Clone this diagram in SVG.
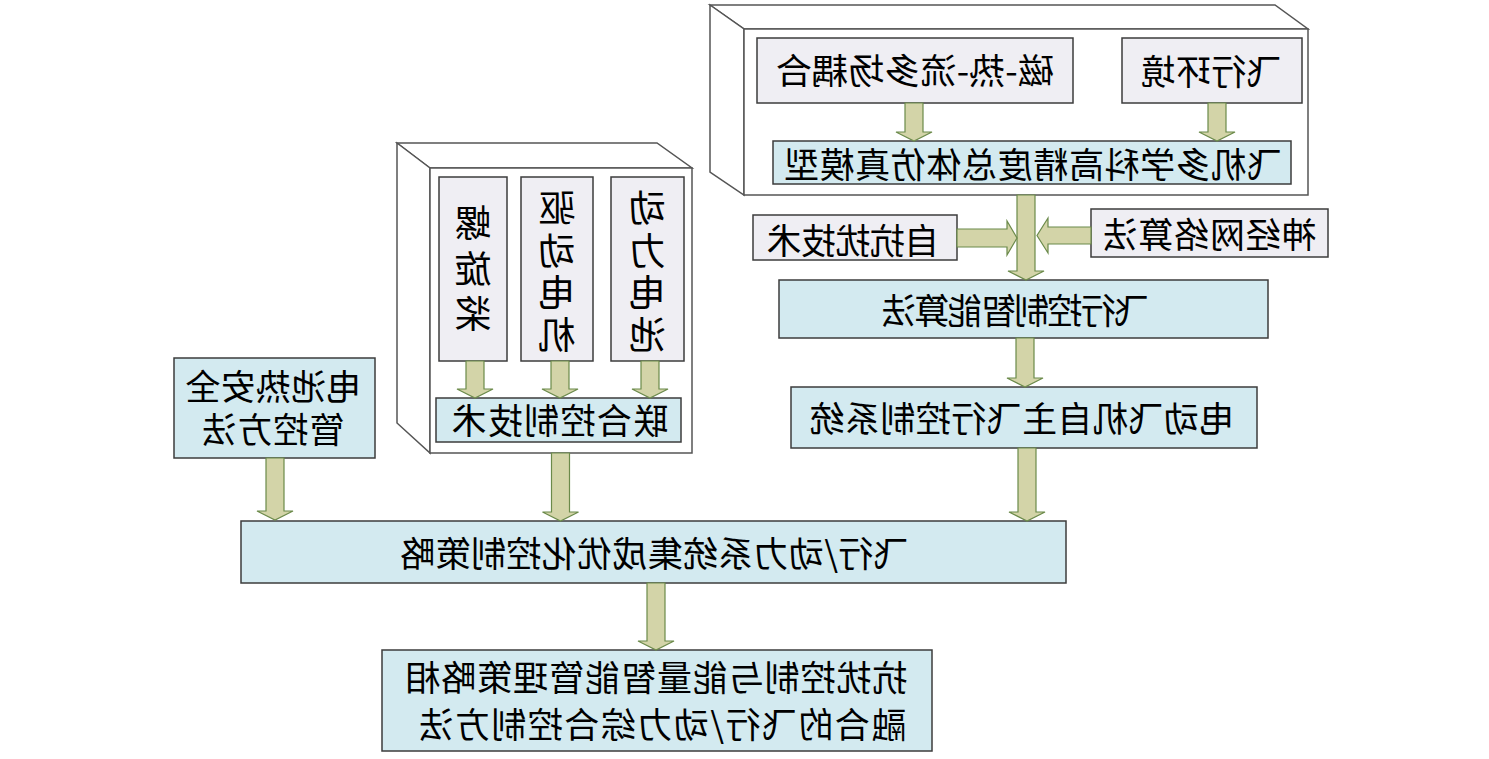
<svg xmlns="http://www.w3.org/2000/svg" width="1489" height="759" viewBox="0 0 1489 759">
<style>
.bg{fill:#ffffff}
.cube{fill:#ffffff;stroke:#555555;stroke-width:1.5;stroke-linejoin:miter}
.blue{fill:#D3EAF0;stroke:#3c3c3c;stroke-width:1.5}
.lav{fill:#EFEEF3;stroke:#3c3c3c;stroke-width:1.5}
.arr{fill:#D3D4A8;stroke:#6B8A4A;stroke-width:1.2;stroke-linejoin:miter}
.t{font-family:"Noto Sans CJK SC","Noto Sans CJK TC",sans-serif;font-size:35px;fill:#000000;text-anchor:middle;dominant-baseline:central}
.v{font-size:37px}
</style>
<rect class="bg" x="0" y="0" width="1489" height="759"/>

<g id="cube-sim">
  <polygon class="cube" points="710,5 1275,5 1308,29 744,29"/>
  <polygon class="cube" points="710,5 744,29 744,195 710,172"/>
  <rect class="cube" x="744" y="29" width="564" height="166"/>
</g>
<g id="node-mhf">
  <rect class="lav" x="757" y="38" width="316" height="65"/>
  <text class="t" x="915" y="68" textLength="278" lengthAdjust="spacingAndGlyphs" transform="matrix(-1 0 0 1 1830 0)">磁-热-流多场耦合</text>
</g>
<g id="node-env">
  <rect class="lav" x="1122" y="38" width="180" height="65"/>
  <text class="t" x="1211" y="69" textLength="141" transform="matrix(-1 0 0 1 2422 0)">飞行环境</text>
</g>
<g id="node-model">
  <rect class="blue" x="773" y="141" width="518" height="43"/>
  <text class="t" x="1033" y="162.5" textLength="498" transform="matrix(-1 0 0 1 2066 0)">飞机多学科高精度总体仿真模型</text>
</g>

<g id="node-adrc">
  <rect class="lav" x="753" y="215" width="204" height="45"/>
  <text class="t" x="853" y="238" textLength="173" transform="matrix(-1 0 0 1 1706 0)">自抗扰技术</text>
</g>
<g id="node-nn">
  <rect class="lav" x="1091" y="209" width="237" height="48"/>
  <text class="t" x="1209.5" y="232" textLength="214" transform="matrix(-1 0 0 1 2419 0)">神经网络算法</text>
</g>
<g id="node-fcalg">
  <rect class="blue" x="779" y="280" width="489" height="58"/>
  <text class="t" x="1015" y="308" font-size="34" textLength="268" transform="matrix(-1 0 0 1 2030 0)">飞行控制智能算法</text>
</g>
<g id="node-afcs">
  <rect class="blue" x="791" y="387" width="466" height="61"/>
  <text class="t" x="1022" y="416" textLength="425" transform="matrix(-1 0 0 1 2044 0)">电动飞机自主飞行控制系统</text>
</g>

<g id="cube-power">
  <polygon class="cube" points="397,143 657,143 692,168 430,168"/>
  <polygon class="cube" points="397,143 430,168 430,453 397,423"/>
  <rect class="cube" x="430" y="168" width="262" height="285"/>
</g>
<g id="node-prop">
  <rect class="lav" x="439" y="177" width="68" height="184"/>
  <text class="t v" x="473" y="221" transform="matrix(-1 0 0 1 946 0)">螺</text>
  <text class="t v" x="473" y="267" transform="matrix(-1 0 0 1 946 0)">旋</text>
  <text class="t v" x="473" y="312" transform="matrix(-1 0 0 1 946 0)">桨</text>
</g>
<g id="node-motor">
  <rect class="lav" x="521" y="177" width="72" height="184"/>
  <text class="t v" x="557" y="206" transform="matrix(-1 0 0 1 1114 0)">驱</text>
  <text class="t v" x="557" y="249" transform="matrix(-1 0 0 1 1114 0)">动</text>
  <text class="t v" x="557" y="291" transform="matrix(-1 0 0 1 1114 0)">电</text>
  <text class="t v" x="557" y="333" transform="matrix(-1 0 0 1 1114 0)">机</text>
</g>
<g id="node-battery">
  <rect class="lav" x="611" y="177" width="73" height="184"/>
  <text class="t v" x="647.5" y="206" transform="matrix(-1 0 0 1 1295 0)">动</text>
  <text class="t v" x="647.5" y="249" transform="matrix(-1 0 0 1 1295 0)">力</text>
  <text class="t v" x="647.5" y="291" transform="matrix(-1 0 0 1 1295 0)">电</text>
  <text class="t v" x="647.5" y="333" transform="matrix(-1 0 0 1 1295 0)">池</text>
</g>
<g id="node-joint">
  <rect class="blue" x="436" y="398" width="245" height="44"/>
  <text class="t" x="560" y="418" textLength="217" transform="matrix(-1 0 0 1 1120 0)">联合控制技术</text>
</g>

<g id="node-thermal">
  <rect class="blue" x="174" y="358" width="201" height="100"/>
  <text class="t" x="273.5" y="384" textLength="176" transform="matrix(-1 0 0 1 547 0)">电池热安全</text>
  <text class="t" x="273" y="427" textLength="143" transform="matrix(-1 0 0 1 546 0)">管控方法</text>
</g>

<g id="node-strategy">
  <rect class="blue" x="241" y="521" width="825" height="62"/>
  <text class="t" x="654.5" y="551.5" textLength="508" transform="matrix(-1 0 0 1 1309 0)">飞行/动力系统集成优化控制策略</text>
</g>

<g id="node-method">
  <rect class="blue" x="382" y="650" width="550" height="101"/>
  <text class="t" x="656.5" y="675" textLength="502" transform="matrix(-1 0 0 1 1313 0)">抗扰控制与能量智能管理策略相</text>
  <text class="t" x="662.5" y="722" textLength="488" transform="matrix(-1 0 0 1 1325 0)">融合的飞行/动力综合控制方法</text>
</g>

<g id="connectors">
  <polygon class="arr" points="905,103 923,103 923,132 932,132 914,141 896,132 905,132"/>
  <polygon class="arr" points="1208,103 1226,103 1226,132 1235,132 1217,141 1199,132 1208,132"/>
  <polygon class="arr" points="1017,195 1035,195 1035,271 1044,271 1026,280 1008,271 1017,271"/>
  <polygon class="arr" points="957,229 1007,229 1007,221 1017,238 1007,255 1007,247 957,247"/>
  <polygon class="arr" points="1091,227 1048,227 1048,218 1037,235.5 1048,253 1048,244 1091,244"/>
  <polygon class="arr" points="1016,338 1034,338 1034,378 1043,378 1025,387 1007,378 1016,378"/>
  <polygon class="arr" points="466,361 484,361 484,389 493,389 475,398 457,389 466,389"/>
  <polygon class="arr" points="551,361 569,361 569,389 578,389 560,398 542,389 551,389"/>
  <polygon class="arr" points="641,361 659,361 659,389 668,389 650,398 632,389 641,389"/>
  <polygon class="arr" points="266,458 284,458 284,511 293,511 275,520 257,511 266,511"/>
  <polygon class="arr" points="551.5,453 569.5,453 569.5,512 578.5,512 560.5,521 542.5,512 551.5,512"/>
  <polygon class="arr" points="1018,448 1036,448 1036,512 1045,512 1027,521 1009,512 1018,512"/>
  <polygon class="arr" points="647,583 665,583 665,641 674,641 656,650 638,641 647,641"/>
</g>
</svg>
